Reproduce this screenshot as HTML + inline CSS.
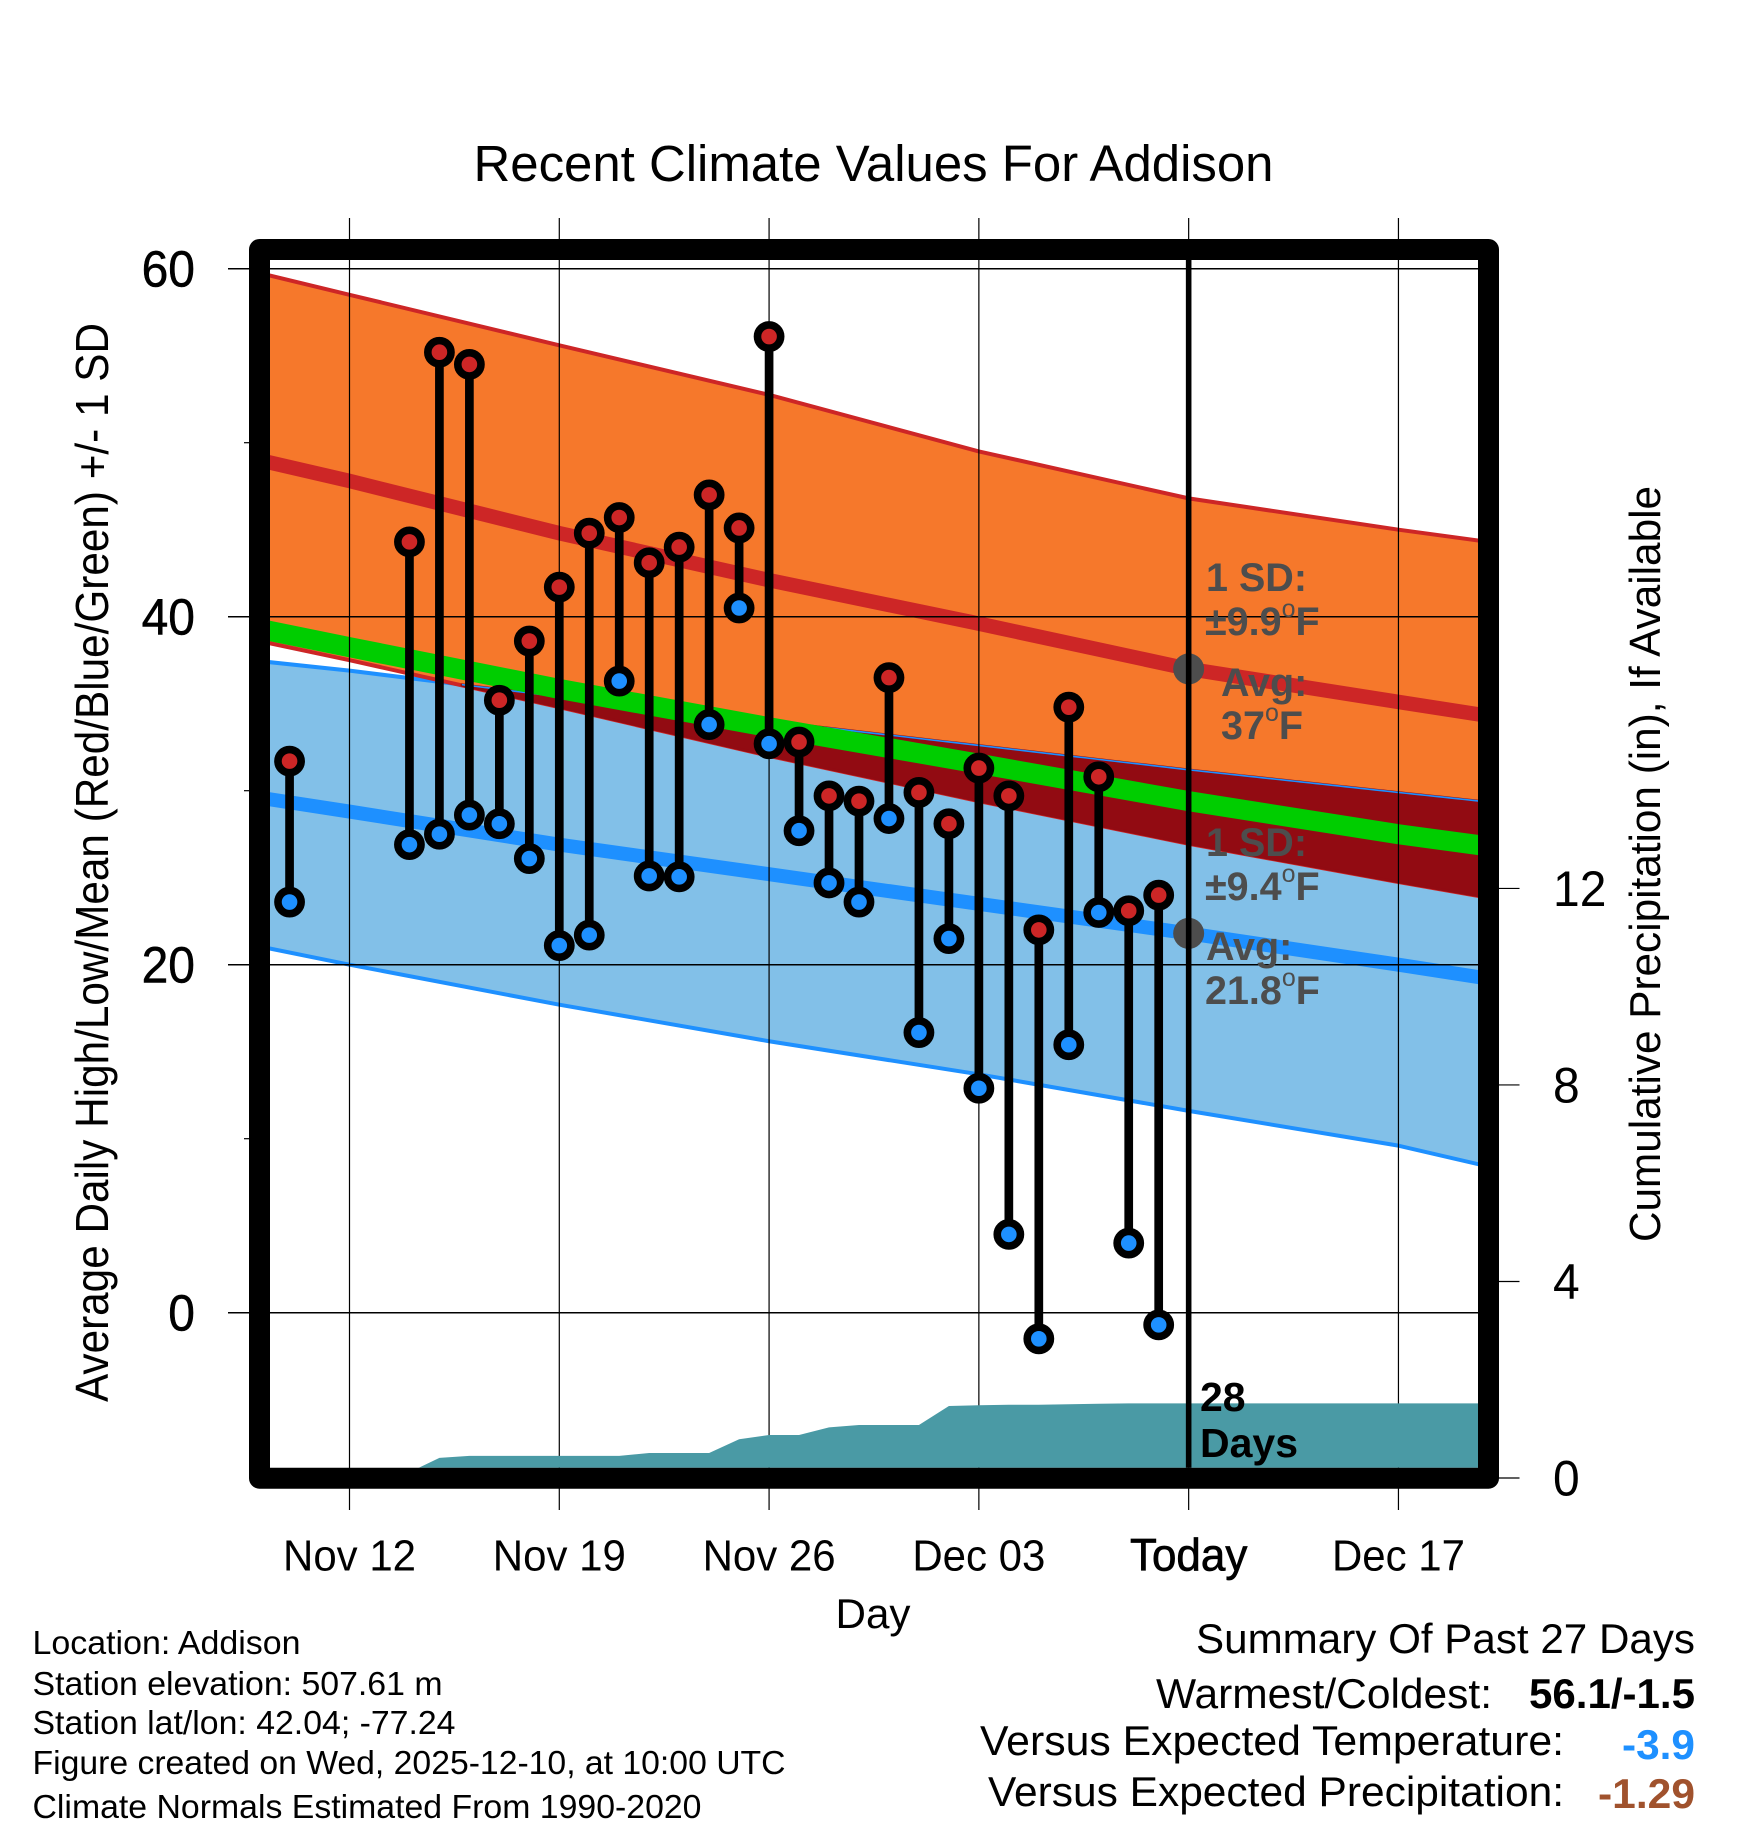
<!DOCTYPE html>
<html lang="en">
<head>
<meta charset="utf-8">
<title>Recent Climate Values For Addison</title>
<style>
html,body{margin:0;padding:0;background:#fff;}
svg{display:block;font-family:"Liberation Sans",Arial,sans-serif;}
</style>
</head>
<body>
<svg id="chart" xmlns="http://www.w3.org/2000/svg" width="1748" height="1828" viewBox="0 0 1748 1828">
  <rect x="0" y="0" width="1748" height="1828" fill="#ffffff"/>
  <defs>
    <clipPath id="plot-clip"><rect x="270" y="260" width="1208.6" height="1207.7"/></clipPath>
  </defs>
  <g id="fills" clip-path="url(#plot-clip)"></g>
  <g id="grid"></g>
  <g id="marks" clip-path="url(#plot-clip)"></g>
  <g id="axis-labels" fill="#000"></g>

  <text x="473.5" y="181" font-size="51" textLength="800" lengthAdjust="spacingAndGlyphs">Recent Climate Values For Addison</text>
  <text transform="translate(108,1402) rotate(-90)" font-size="46" textLength="1079" lengthAdjust="spacingAndGlyphs">Average Daily High/Low/Mean (Red/Blue/Green) +/- 1 SD</text>
  <text transform="translate(1660,1242) rotate(-90)" font-size="44" textLength="756" lengthAdjust="spacingAndGlyphs">Cumulative Precipitation (in), If Available</text>
  <text x="835.5" y="1628" font-size="42" textLength="75" lengthAdjust="spacingAndGlyphs">Day</text>

  <g font-weight="bold" font-size="39.5" fill="#4d4d4d">
    <text x="1206" y="591">1 SD:</text>
    <text x="1205" y="635">±9.9<tspan dy="-18" font-size="25" font-weight="normal">o</tspan><tspan dy="18">F</tspan></text>
    <text x="1221" y="696">Avg:</text>
    <text x="1221" y="739">37<tspan dy="-18" font-size="25" font-weight="normal">o</tspan><tspan dy="18">F</tspan></text>
  </g>
  <g font-weight="bold" font-size="39.5" fill="#4d4d4d">
    <text x="1206" y="856">1 SD:</text>
    <text x="1205" y="900">±9.4<tspan dy="-18" font-size="25" font-weight="normal">o</tspan><tspan dy="18">F</tspan></text>
    <text x="1206" y="960">Avg:</text>
    <text x="1205" y="1004">21.8<tspan dy="-18" font-size="25" font-weight="normal">o</tspan><tspan dy="18">F</tspan></text>
  </g>
  <g font-weight="bold" font-size="41" fill="#000">
    <text x="1200" y="1411">28</text>
    <text x="1200" y="1457">Days</text>
  </g>

  <rect x="259.5" y="249.5" width="1229" height="1228.7" fill="none" stroke="#000" stroke-width="21" stroke-linejoin="round"/>

  <g font-size="33" fill="#000">
    <text x="32.5" y="1654" textLength="268" lengthAdjust="spacingAndGlyphs">Location: Addison</text>
    <text x="32.5" y="1695" textLength="410" lengthAdjust="spacingAndGlyphs">Station elevation: 507.61 m</text>
    <text x="32.5" y="1734" textLength="423" lengthAdjust="spacingAndGlyphs">Station lat/lon: 42.04; -77.24</text>
    <text x="32.5" y="1774" textLength="753" lengthAdjust="spacingAndGlyphs">Figure created on Wed, 2025-12-10, at 10:00 UTC</text>
    <text x="32.5" y="1818" textLength="669" lengthAdjust="spacingAndGlyphs">Climate Normals Estimated From 1990-2020</text>
  </g>
  <g font-size="42" fill="#000">
    <text x="1196" y="1653" textLength="499" lengthAdjust="spacingAndGlyphs">Summary Of Past 27 Days</text>
    <text x="1156" y="1708" textLength="336" lengthAdjust="spacingAndGlyphs">Warmest/Coldest:</text>
    <text x="1529" y="1708" font-weight="bold" textLength="166" lengthAdjust="spacingAndGlyphs">56.1/-1.5</text>
    <text x="980" y="1755" textLength="584" lengthAdjust="spacingAndGlyphs">Versus Expected Temperature:</text>
    <text x="1622" y="1759" font-weight="bold" fill="#1e90ff" textLength="73" lengthAdjust="spacingAndGlyphs">-3.9</text>
    <text x="988" y="1806" textLength="576" lengthAdjust="spacingAndGlyphs">Versus Expected Precipitation:</text>
    <text x="1598" y="1808" font-weight="bold" fill="#a0522d" textLength="97" lengthAdjust="spacingAndGlyphs">-1.29</text>
  </g>
</svg>
<script>
// Observations: day number counted from Nov 12
const obsDays = [-2, 2, 3, 4, 5, 6, 7, 8, 9, 10, 11, 12, 13, 14, 15, 16, 17, 18, 19, 20, 21, 22, 23, 24, 25, 26, 27];
const obsHigh = [31.7, 44.3, 55.2, 54.5, 35.2, 38.6, 41.7, 44.8, 45.7, 43.1, 44.0, 47.0, 45.1, 56.1, 32.8, 29.7, 29.4, 36.5, 29.9, 28.1, 31.3, 29.7, 22.0, 34.8, 30.8, 23.1, 24.0];
const obsLow = [23.6, 26.9, 27.5, 28.6, 28.1, 26.1, 21.1, 21.7, 36.3, 25.1, 25.05, 33.8, 40.5, 32.7, 27.7, 24.7, 23.6, 28.4, 16.1, 21.5, 12.9, 4.5, -1.5, 15.4, 23.0, 4.0, -0.7];

// Climatology sampled at these day numbers
const climDays = [-3, 0, 7, 14, 21, 28, 35, 38];
const highPlusSd = [59.75, 58.5, 55.6, 52.75, 49.5, 46.8, 45.0, 44.3];
const highMean = [49.0, 47.8, 44.8, 42.1, 39.6, 37.0, 35.1, 34.3];
const highMinusSd = [38.6, 37.5, 34.8, 32.0, 29.4, 26.95, 24.75, 23.85];
const lowPlusSd = [37.45, 36.9, 35.4, 34.0, 32.6, 31.2, 29.9, 29.35];
const lowMean = [29.6, 28.8, 26.9, 25.2, 23.5, 21.8, 20.0, 19.2];
const lowMinusSd = [21.05, 20.0, 17.7, 15.6, 13.7, 11.6, 9.6, 8.4];
const overallMean = [39.3, 38.25, 35.85, 33.65, 31.55, 29.4, 27.5, 26.8];

// Cumulative precipitation (inches)
const precipDays = [-3, 1.6, 3, 4, 5, 6, 7, 8, 9, 10, 11, 12, 13, 14, 15, 16, 17, 18, 19, 20, 21, 22, 23, 24, 25, 26, 27, 28, 38];
const precipValues = [0, 0, 0.41, 0.45, 0.45, 0.45, 0.45, 0.45, 0.45, 0.51, 0.51, 0.51, 0.79, 0.875, 0.875, 1.03, 1.08, 1.08, 1.08, 1.466, 1.48, 1.49, 1.49, 1.5, 1.51, 1.52, 1.52, 1.52, 1.52];

// Axis ticks
const xTickDays = [0, 7, 14, 21, 28, 35];
const xTickLabels = ["Nov 12", "Nov 19", "Nov 26", "Dec 03", "Today", "Dec 17"];
const yMajorTicks = [60, 40, 20, 0];
const yMinorTicks = [50, 30, 10];
const rightTicks = [0, 4, 8, 12];
const todayDay = 28;
const todayHighAvg = 37;
const todayLowAvg = 21.8;

const NS = 'http://www.w3.org/2000/svg';
function xScale(d) { return 349.5 + 29.97 * d; }
function yTemp(v) { return 1312.7 - 17.4 * v; }
function yPrecip(v) { return 1478 - 49.13 * v; }

function mk(tag, parent, attrs) {
  const el = document.createElementNS(NS, tag);
  for (const k in attrs) el.setAttribute(k, attrs[k]);
  parent.appendChild(el);
  return el;
}
function linePts(days, vals) {
  return days.map((d, i) => xScale(d).toFixed(2) + ',' + yTemp(vals[i]).toFixed(2));
}
function bandPts(days, top, bottom) {
  return linePts(days, top).concat(linePts(days, bottom).reverse()).join(' ');
}
function interp(days, vals, d) {
  for (let i = 0; i < days.length - 1; i++) {
    if (d <= days[i + 1]) {
      const t = (d - days[i]) / (days[i + 1] - days[i]);
      return vals[i] + t * (vals[i + 1] - vals[i]);
    }
  }
  return vals[vals.length - 1];
}

const fills = document.getElementById('fills');
const grid = document.getElementById('grid');
const marks = document.getElementById('marks');
const labels = document.getElementById('axis-labels');

// Low band
const lowBand = mk('polygon', fills, { points: bandPts(climDays, lowPlusSd, lowMinusSd), fill: '#82c0e8' });


const lowTopEdge = mk('polyline', fills, { points: linePts(climDays, lowPlusSd).join(' '), fill: 'none', stroke: '#1e90ff', 'stroke-width': 4 });


const lowBottomEdge = mk('polyline', fills, { points: linePts(climDays, lowMinusSd).join(' '), fill: 'none', stroke: '#1e90ff', 'stroke-width': 4 });


const lowMeanLine = mk('polyline', fills, { points: linePts(climDays, lowMean).join(' '), fill: 'none', stroke: '#1e90ff', 'stroke-width': 14 });



// High band
const highBand = mk('polygon', fills, { points: bandPts(climDays, highPlusSd, highMinusSd), fill: '#f6782b' });


const highTopEdge = mk('polyline', fills, { points: linePts(climDays, highPlusSd).join(' '), fill: 'none', stroke: '#cd2626', 'stroke-width': 4 });


const highBottomEdge = mk('polyline', fills, { points: linePts(climDays, highMinusSd).join(' '), fill: 'none', stroke: '#cd2626', 'stroke-width': 4 });


const highMeanLine = mk('polyline', fills, { points: linePts(climDays, highMean).join(' '), fill: 'none', stroke: '#cd2626', 'stroke-width': 14.5 });



// Overlap of the two bands
const overlapDays = [];
for (let d = climDays[0]; d <= climDays[climDays.length - 1]; d += 0.25) {
  if (interp(climDays, lowPlusSd, d) > interp(climDays, highMinusSd, d)) overlapDays.push(d);
}
if (overlapDays.length > 1) {
  const ovTop = overlapDays.map(d => interp(climDays, lowPlusSd, d));
  const ovBottom = overlapDays.map(d => interp(climDays, highMinusSd, d));
  const overlap = mk('polygon', fills, { points: bandPts(overlapDays, ovTop, ovBottom), fill: '#920b12', stroke: '#920b12', 'stroke-width': 2.6, 'stroke-linejoin': 'round' });
  
  
  const thinBlue = mk('polyline', fills, { points: linePts(overlapDays, ovTop).join(' '), fill: 'none', stroke: '#1e90ff', 'stroke-width': 1.6 });
  
  
}

const meanLine = mk('polyline', fills, { points: linePts(climDays, overallMean).join(' '), fill: 'none', stroke: '#00cd00', 'stroke-width': 20 });



// Grid lines and ticks
xTickDays.forEach((d, i) => {
  const gl = mk('line', grid, { x1: xScale(d), x2: xScale(d), y1: 218, y2: 1510, stroke: '#000', 'stroke-width': 1.2 });
  
  
  const isToday = xTickLabels[i] === 'Today';
  const t = mk('text', labels, { 'text-anchor': 'middle', 'font-size': isToday ? 44 : 42, transform: 'translate(' + xScale(d) + ',1570.5) scale(1,1.04)' });
  
  
  t.textContent = xTickLabels[i];
  if (isToday) { t.setAttribute('stroke', '#000'); t.setAttribute('stroke-width', '0.7'); }
});
yMajorTicks.forEach(v => {
  const gl = mk('line', grid, { x1: 228, x2: 1488, y1: yTemp(v), y2: yTemp(v), stroke: '#000', 'stroke-width': 1.5 });
  
  
  const t = mk('text', labels, { 'text-anchor': 'end', 'font-size': 48, stroke: '#000', 'stroke-width': 0.5, transform: 'translate(195,' + (yTemp(v) + 17.8) + ') scale(1,1.07)' });
  
  
  t.textContent = v;
});
yMinorTicks.forEach(v => {
  const tk = mk('line', grid, { x1: 244, x2: 250, y1: yTemp(v), y2: yTemp(v), stroke: '#000', 'stroke-width': 1.2 });
  
  
});
rightTicks.forEach(v => {
  const tk = mk('line', grid, { x1: 1498, x2: 1519.5, y1: yPrecip(v), y2: yPrecip(v), stroke: '#000', 'stroke-width': 1.2 });
  
  
  const t = mk('text', labels, { 'font-size': 48, transform: 'translate(1553,' + (yPrecip(v) + 17.6) + ') scale(1,1.05)' });
  
  
  t.textContent = v;
});

// Precipitation area sits above the grid
const precipBase = precipDays.map(d => xScale(d).toFixed(2) + ',' + yPrecip(0).toFixed(2)).reverse();
const precipTop = precipDays.map((d, i) => xScale(d).toFixed(2) + ',' + yPrecip(precipValues[i]).toFixed(2));
const precipArea = mk('polygon', marks, { points: precipTop.concat(precipBase).join(' '), fill: '#4a9aa5' });



// Stems and markers
obsDays.forEach((d, i) => {
  const stem = mk('line', marks, { x1: xScale(d), x2: xScale(d), y1: yTemp(obsHigh[i]), y2: yTemp(obsLow[i]), stroke: '#000', 'stroke-width': 8.7 });
  
  
});
obsDays.forEach((d, i) => {
  const lo = mk('circle', marks, { cx: xScale(d), cy: yTemp(obsLow[i]), r: 11.6, fill: '#1e90ff', stroke: '#000', 'stroke-width': 7.6 });
  
  
  const hi = mk('circle', marks, { cx: xScale(d), cy: yTemp(obsHigh[i]), r: 11.6, fill: '#cd2626', stroke: '#000', 'stroke-width': 7.6 });
  
  
});

// Today marker
const hiDot = mk('circle', marks, { cx: xScale(todayDay), cy: yTemp(todayHighAvg), r: 15.5, fill: '#4d4d4d' });


const loDot = mk('circle', marks, { cx: xScale(todayDay), cy: yTemp(todayLowAvg), r: 15.5, fill: '#4d4d4d' });


const todayLine = mk('line', marks, { x1: xScale(todayDay), x2: xScale(todayDay), y1: 255, y2: 1470, stroke: '#000', 'stroke-width': 5.6 });


</script>
</body>
</html>
